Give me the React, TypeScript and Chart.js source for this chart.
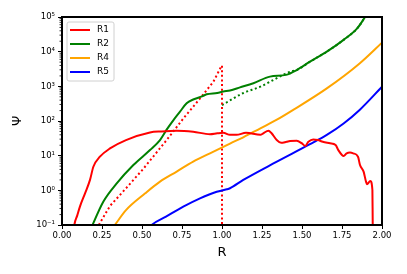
import { useEffect, useRef } from "react";
import { Chart, registerables } from "chart.js";

Chart.register(...registerables);

// ---- data ----
const r1R = [0.07, 0.077, 0.095, 0.112, 0.144, 0.175, 0.196, 0.237, 0.30, 0.40, 0.55, 0.62, 0.717, 0.82, 0.925, 0.97, 1.008, 1.05, 1.09, 1.15, 1.24, 1.258, 1.29, 1.31, 1.342, 1.37, 1.404, 1.425, 1.467, 1.498, 1.52, 1.54, 1.57, 1.60, 1.63, 1.675, 1.71, 1.727, 1.76, 1.779, 1.80, 1.82, 1.85, 1.8625, 1.885, 1.90, 1.906, 1.927, 1.94, 1.942, 1.946];
const r1Psi = [0.05, 0.1, 0.186, 0.339, 0.82, 2.0, 4.79, 9.33, 16.2, 28.2, 46.8, 50.1, 52.5, 49.0, 41.7, 44.2, 45.7, 39.8, 39.8, 45.7, 39.8, 44.2, 52.5, 44.2, 28.2, 23.4, 25.1, 26.3, 26.9, 22.9, 19.1, 25.1, 29.5, 28.2, 25.1, 22.9, 20.4, 14.5, 9.77, 11.7, 12.3, 11.7, 9.33, 5.37, 3.47, 1.78, 1.51, 1.86, 1.02, 0.112, 0.032];

const r1InnerR = [0.23, 0.30, 0.404, 0.508, 0.654, 0.758, 0.8625, 0.946, 0.998, 1.0, 1.0];
const r1InnerPsi = [0.1, 0.355, 1.2, 4.17, 28.2, 117.5, 447, 1349, 3981, 3981, 0.01];

const r2R = [0.17, 0.258, 0.342, 0.446, 0.55, 0.6125, 0.654, 0.70, 0.7375, 0.779, 0.82, 0.875, 0.904, 0.97, 1.008, 1.05, 1.1125, 1.196, 1.30, 1.40, 1.467, 1.55, 1.655, 1.76, 1.845, 1.895, 1.92];
const r2Psi = [0.06, 0.468, 1.585, 5.37, 14.5, 28.2, 56.2, 112, 186, 324, 417, 513, 589, 646, 708, 759, 933, 1230, 1905, 2138, 2951, 5129, 10000, 21878, 46774, 100000, 141254];

const r2OuterR = [1.0, 1.13, 1.24, 1.34, 1.404, 1.44, 1.467, 1.55, 1.655, 1.76, 1.845, 1.895, 1.92];
const r2OuterPsi = [288, 631, 977, 1698, 2399, 2754, 2951, 5129, 10000, 21878, 46774, 100000, 141254];

const r4R = [0.31, 0.33, 0.40, 0.52, 0.6125, 0.717, 0.82, 0.925, 1.05, 1.133, 1.24, 1.34, 1.445, 1.655, 1.86, 2.0];
const r4Psi = [0.076, 0.1, 0.269, 0.82, 1.78, 3.47, 6.76, 11.7, 22.4, 33.9, 61.7, 107, 209, 871, 4571, 18197];

const r5R = [0.54, 0.56, 0.65, 0.758, 0.8625, 0.967, 1.03, 1.05, 1.133, 1.34, 1.55, 1.655, 1.76, 1.86, 2.0];
const r5Psi = [0.079, 0.1, 0.174, 0.339, 0.589, 0.912, 1.07, 1.15, 2.0, 6.61, 21.4, 39.8, 85.1, 209, 977];

const yTickValues = [0.1, 1, 10, 100, 1000, 10000, 100000];
const yTickLabels = ["10⁻¹", "10⁰", "10¹", "10²", "10³", "10⁴", "10⁵"];
const xTickValues = [0, 0.25, 0.5, 0.75, 1.0, 1.25, 1.5, 1.75, 2.0];

const FONT = "'DejaVu Sans', sans-serif";

const pts = (xs: number[], ys: number[]) => xs.map((x, i) => ({ x, y: ys[i] }));

const framePlugin = {
  id: "frameAndLegend",
  afterDatasetsDraw(chart: any) {
    const { ctx, chartArea } = chart;
    const { left, right, top, bottom } = chartArea;
    ctx.save();
    // minor ticks on log y-axis
    const ys = chart.scales.y;
    ctx.strokeStyle = "#000";
    ctx.lineWidth = 0.8;
    for (let d = -1; d < 5; d++) {
      for (let k = 2; k <= 9; k++) {
        const yv = ys.getPixelForValue(k * Math.pow(10, d));
        ctx.beginPath();
        ctx.moveTo(left - 2.5, yv);
        ctx.lineTo(left, yv);
        ctx.stroke();
      }
    }
    // frame
    ctx.lineWidth = 2;
    ctx.strokeRect(left, top, right - left, bottom - top);

    // legend
    const bx = left + 5, by = top + 5, bw = 47, bh = 59, rr = 2;
    ctx.beginPath();
    ctx.moveTo(bx + rr, by);
    ctx.lineTo(bx + bw - rr, by);
    ctx.quadraticCurveTo(bx + bw, by, bx + bw, by + rr);
    ctx.lineTo(bx + bw, by + bh - rr);
    ctx.quadraticCurveTo(bx + bw, by + bh, bx + bw - rr, by + bh);
    ctx.lineTo(bx + rr, by + bh);
    ctx.quadraticCurveTo(bx, by + bh, bx, by + bh - rr);
    ctx.lineTo(bx, by + rr);
    ctx.quadraticCurveTo(bx, by, bx + rr, by);
    ctx.closePath();
    ctx.fillStyle = "rgba(255,255,255,0.8)";
    ctx.fill();
    ctx.strokeStyle = "#d0d0d0";
    ctx.lineWidth = 1;
    ctx.stroke();

    const items = chart.data.datasets.filter((d: any) => d.label);
    ctx.font = `9px ${FONT}`;
    ctx.textBaseline = "middle";
    ctx.textAlign = "left";
    items.forEach((d: any, i: number) => {
      const yy = by + 8 + i * 14;
      ctx.strokeStyle = d.borderColor;
      ctx.lineWidth = 2;
      ctx.beginPath();
      ctx.moveTo(bx + 3, yy);
      ctx.lineTo(bx + 23, yy);
      ctx.stroke();
      ctx.fillStyle = "#000";
      ctx.fillText(d.label, bx + 30, yy);
    });
    ctx.restore();
  },
};

export default function App() {
  const ref = useRef<HTMLCanvasElement | null>(null);
  useEffect(() => {
    if (!ref.current) return;
    const solid = (label: string, color: string, xs: number[], ys: number[]) => ({
      label,
      data: pts(xs, ys),
      borderColor: color,
      backgroundColor: color,
      borderWidth: 2,
      pointRadius: 0,
      cubicInterpolationMode: "monotone",
      fill: false,
    });
    const dotted = (color: string, xs: number[], ys: number[], smooth: boolean) => ({
      label: "",
      data: pts(xs, ys),
      borderColor: color,
      backgroundColor: color,
      borderWidth: 2,
      borderDash: [2, 2.6],
      pointRadius: 0,
      tension: 0,
      cubicInterpolationMode: smooth ? "monotone" : "default",
      fill: false,
    });
    const chart = new Chart(ref.current, {
      type: "line",
      data: {
        datasets: [
          solid("R1", "#ff0000", r1R, r1Psi),
          solid("R2", "#008000", r2R, r2Psi),
          solid("R4", "#ffa500", r4R, r4Psi),
          solid("R5", "#0000ff", r5R, r5Psi),
          dotted("#ff0000", r1InnerR, r1InnerPsi, false),
          dotted("#008000", r2OuterR, r2OuterPsi, true),
        ] as any,
      },
      options: {
        responsive: false,
        animation: false,
        events: [],
        layout: { padding: { top: 17, right: 25, bottom: 0, left: 0 } },
        plugins: { legend: { display: false }, tooltip: { enabled: false } },
        scales: {
          x: {
            type: "linear",
            min: 0,
            max: 2,
            afterBuildTicks: (s: any) => {
              s.ticks = xTickValues.map((v) => ({ value: v }));
            },
            afterFit: (s: any) => {
              s.height = 49;
            },
            ticks: {
              autoSkip: false,
              maxRotation: 0,
              padding: 2,
              color: "#000",
              font: { family: FONT, size: 8.5 },
              callback: (v: any) => Number(v).toFixed(2),
            },
            grid: { drawOnChartArea: false, drawTicks: true, tickLength: 4, tickColor: "#000", tickWidth: 1 },
            border: { display: true, color: "#000", width: 2 },
            title: {
              display: true,
              text: "R",
              color: "#000",
              font: { family: FONT, size: 13 },
              padding: { top: 0, bottom: 14 },
            },
          },
          y: {
            type: "logarithmic",
            min: 0.1,
            max: 100000,
            afterBuildTicks: (s: any) => {
              s.ticks = yTickValues.map((v) => ({ value: v }));
            },
            afterFit: (s: any) => {
              s.width = 62;
            },
            ticks: {
              autoSkip: false,
              padding: 3,
              color: "#000",
              font: { family: FONT, size: 8.5 },
              callback: (_v: any, i: number) => yTickLabels[i],
            },
            grid: { drawOnChartArea: false, drawTicks: true, tickLength: 4, tickColor: "#000", tickWidth: 1 },
            border: { display: true, color: "#000", width: 2 },
            title: {
              display: true,
              text: "Ψ",
              color: "#000",
              font: { family: FONT, size: 13 },
              padding: { top: 10, bottom: 0 },
            },
          },
        },
      },
      plugins: [framePlugin],
    });
    return () => chart.destroy();
  }, []);
  return (
    <div style={{ position: "absolute", left: 0, top: 0, width: 407, height: 274, background: "#fff" }}>
      <canvas ref={ref} width={407} height={274} style={{ display: "block" }} />
    </div>
  );
}
